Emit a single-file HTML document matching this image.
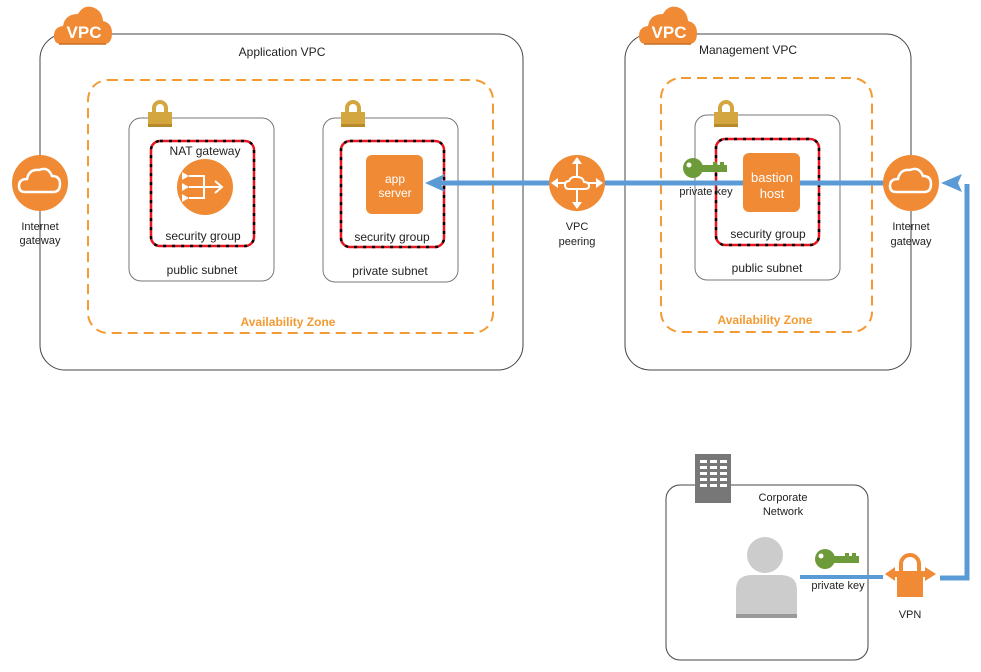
<!DOCTYPE html>
<html><head><meta charset="utf-8"><style>
html,body{margin:0;padding:0;background:#fff;}
svg{display:block;font-family:"Liberation Sans",sans-serif;}
</style></head><body>
<svg width="981" height="672" viewBox="0 0 981 672" xmlns="http://www.w3.org/2000/svg">
<defs>
<g id="cloudbadge">
<path d="M7 39 Q0 39 0 31 Q0 22 9 21 Q11 9 24 9 Q29 0 38 2 Q48 5 49 16 Q58 18 58 28 Q58 39 50 39 Z" fill="#f08a35"/>
<path d="M5 39 H52" stroke="#c96d22" stroke-width="1.5"/>
</g>
<g id="lock">
<path d="M6 12 V8 A6 6 0 0 1 18 8 V12" fill="none" stroke="#d4a640" stroke-width="4"/>
<rect x="0" y="12" width="24" height="15" fill="#d4a640"/>
<rect x="0" y="24" width="24" height="3" fill="#b8892a"/>
</g>
<g id="key">
<circle cx="10" cy="11" r="10" fill="#6e9b3a"/>
<rect x="14" y="8" width="30" height="7" fill="#6e9b3a"/>
<rect x="30" y="5" width="4" height="4" fill="#6e9b3a"/>
<rect x="37" y="5" width="4" height="4" fill="#6e9b3a"/>
<circle cx="6" cy="8" r="2.5" fill="#fff"/>
</g>
<g id="igw">
<circle cx="0" cy="0" r="28" fill="#f08a35"/>
<path d="M-15 9 Q-21 9 -21 3 Q-21 -4 -13 -4 Q-11 -14 -1 -13 Q8 -17 12 -7 Q20 -7 20 1 Q20 9 13 9 Z" fill="none" stroke="#fff" stroke-width="2.5"/>
</g>
</defs>

<!-- Application VPC -->
<rect x="40" y="34" width="483" height="336" rx="25" fill="none" stroke="#444" stroke-width="1"/>
<use href="#cloudbadge" x="54" y="5"/>
<text x="84" y="38" font-size="17" font-weight="bold" fill="#fff" text-anchor="middle">VPC</text>
<text x="282" y="56" font-size="12" text-anchor="middle" fill="#222">Application VPC</text>
<rect x="88" y="80" width="405" height="253" rx="20" fill="none" stroke="#f49a32" stroke-width="2" stroke-dasharray="10,6"/>
<text x="288" y="326" font-size="12" font-weight="bold" fill="#f49a32" text-anchor="middle">Availability Zone</text>

<rect x="129" y="118" width="145" height="163" rx="12" fill="none" stroke="#777"/>
<use href="#lock" x="148" y="100"/>
<rect x="151" y="141" width="103" height="105" rx="9" fill="none" stroke="#e8141e" stroke-width="2.5"/>
<rect x="151" y="141" width="103" height="105" rx="9" fill="none" stroke="#000" stroke-width="2.5" stroke-dasharray="3,6"/>
<text x="205" y="155" font-size="12" text-anchor="middle" fill="#222">NAT gateway</text>
<circle cx="205" cy="187" r="28" fill="#f08a35"/>
<path d="M189 176 H204 V198 H189 M189 187 H221 M215 181 L222 187 L215 193" fill="none" stroke="#fff" stroke-width="2"/>
<path d="M182 172 L189 176 L182 180 Z M182 183 L189 187 L182 191 Z M182 194 L189 198 L182 202 Z" fill="#fff"/>
<text x="203" y="240" font-size="12" text-anchor="middle" fill="#222">security group</text>
<text x="202" y="274" font-size="12" text-anchor="middle" fill="#222">public subnet</text>

<rect x="323" y="118" width="135" height="164" rx="12" fill="none" stroke="#777"/>
<use href="#lock" x="341" y="100"/>
<rect x="341" y="141" width="103" height="106" rx="9" fill="none" stroke="#e8141e" stroke-width="2.5"/>
<rect x="341" y="141" width="103" height="106" rx="9" fill="none" stroke="#000" stroke-width="2.5" stroke-dasharray="3,6"/>
<rect x="366" y="155" width="57" height="59" rx="6" fill="#f08a35"/>
<text x="395" y="183" font-size="12" text-anchor="middle" fill="#fff">app</text>
<text x="395" y="197" font-size="12" text-anchor="middle" fill="#fff">server</text>
<text x="392" y="241" font-size="12" text-anchor="middle" fill="#222">security group</text>
<text x="390" y="275" font-size="12" text-anchor="middle" fill="#222">private subnet</text>

<!-- Left IGW -->
<use href="#igw" x="40" y="183"/>
<text x="40" y="230" font-size="11" text-anchor="middle" fill="#222">Internet</text>
<text x="40" y="244" font-size="11" text-anchor="middle" fill="#222">gateway</text>

<!-- Management VPC -->
<rect x="625" y="34" width="286" height="336" rx="25" fill="none" stroke="#444" stroke-width="1"/>
<use href="#cloudbadge" x="639" y="5"/>
<text x="669" y="38" font-size="17" font-weight="bold" fill="#fff" text-anchor="middle">VPC</text>
<text x="748" y="54" font-size="12" text-anchor="middle" fill="#222">Management VPC</text>
<rect x="661" y="78" width="211" height="254" rx="20" fill="none" stroke="#f49a32" stroke-width="2" stroke-dasharray="10,6"/>
<text x="765" y="324" font-size="12" font-weight="bold" fill="#f49a32" text-anchor="middle">Availability Zone</text>
<rect x="695" y="115" width="145" height="165" rx="12" fill="none" stroke="#777"/>
<use href="#lock" x="714" y="100"/>
<rect x="716" y="139" width="103" height="106" rx="9" fill="none" stroke="#e8141e" stroke-width="2.5"/>
<rect x="716" y="139" width="103" height="106" rx="9" fill="none" stroke="#000" stroke-width="2.5" stroke-dasharray="3,6"/>

<!-- blue main line -->
<line x1="438" y1="183" x2="885" y2="183" stroke="#5b9bd5" stroke-width="5"/>
<path d="M425 183 L445 174 L440 183 L445 192 Z" fill="#5b9bd5"/>

<rect x="743" y="153" width="57" height="59" rx="6" fill="#f08a35"/>
<text x="772" y="182" font-size="13" text-anchor="middle" fill="#fff">bastion</text>
<text x="772" y="198" font-size="13" text-anchor="middle" fill="#fff">host</text>
<text x="768" y="238" font-size="12" text-anchor="middle" fill="#222">security group</text>
<text x="767" y="272" font-size="12" text-anchor="middle" fill="#222">public subnet</text>
<use href="#key" x="683" y="157"/>
<text x="706" y="195" font-size="11" text-anchor="middle" fill="#222">private key</text>

<!-- VPC peering -->
<circle cx="577" cy="183" r="28" fill="#f08a35"/>
<path d="M577 160 V206 M554 183 H600" stroke="#fff" stroke-width="2"/>
<path d="M577 157 L572 164 L582 164 Z M577 209 L572 202 L582 202 Z M551 183 L558 178 L558 188 Z M603 183 L596 178 L596 188 Z" fill="#fff"/>
<path d="M569 189 Q565 189 565 185 Q565 181 569 181 Q571 176 577 177 Q583 177 584 182 Q589 182 589 186 Q589 189 585 189 Z" fill="#f08a35" stroke="#fff" stroke-width="2"/>
<text x="577" y="230" font-size="11" text-anchor="middle" fill="#222">VPC</text>
<text x="577" y="245" font-size="11" text-anchor="middle" fill="#222">peering</text>

<!-- Right IGW -->
<use href="#igw" x="911" y="183"/>
<text x="911" y="230" font-size="11" text-anchor="middle" fill="#222">Internet</text>
<text x="911" y="245" font-size="11" text-anchor="middle" fill="#222">gateway</text>

<!-- right connector -->
<path d="M940 578 H967 V184" fill="none" stroke="#5b9bd5" stroke-width="5"/>
<path d="M941 183 L962 174 L958 183 L962 192 Z" fill="#5b9bd5"/>

<!-- Corporate -->
<rect x="666" y="485" width="202" height="175" rx="14" fill="none" stroke="#444"/>
<rect x="695" y="454" width="36" height="49" fill="#777"/>
<g fill="#fff">
<rect x="700" y="460" width="7" height="3"/><rect x="710" y="460" width="7" height="3"/><rect x="720" y="460" width="7" height="3"/>
<rect x="700" y="466" width="7" height="3"/><rect x="710" y="466" width="7" height="3"/><rect x="720" y="466" width="7" height="3"/>
<rect x="700" y="472" width="7" height="3"/><rect x="710" y="472" width="7" height="3"/><rect x="720" y="472" width="7" height="3"/>
<rect x="700" y="478" width="7" height="3"/><rect x="710" y="478" width="7" height="3"/><rect x="720" y="478" width="7" height="3"/>
<rect x="700" y="484" width="7" height="3"/><rect x="710" y="484" width="7" height="3"/><rect x="720" y="484" width="7" height="3"/>
</g>
<text x="783" y="501" font-size="11" text-anchor="middle" fill="#222">Corporate</text>
<text x="783" y="515" font-size="11" text-anchor="middle" fill="#222">Network</text>
<circle cx="765" cy="555" r="18" fill="#ccc"/>
<path d="M736 618 V590 Q736 575 752 575 H780 Q797 575 797 590 V618 Z" fill="#ccc"/>
<rect x="736" y="614" width="61" height="4" fill="#999"/>
<line x1="800" y1="577" x2="883" y2="577" stroke="#5b9bd5" stroke-width="4"/>
<use href="#key" x="815" y="548"/>
<text x="838" y="589" font-size="11" text-anchor="middle" fill="#222">private key</text>
<!-- VPN -->
<path d="M901 571 V564 A9 9 0 0 1 919 564 V571" fill="none" stroke="#f08a35" stroke-width="4"/>
<rect x="897" y="571" width="26" height="26" fill="#f08a35"/>
<path d="M885 574 L895 567 L895 571 L925 571 L925 567 L936 574 L925 581 L925 577 L895 577 L895 581 Z" fill="#f08a35"/>
<text x="910" y="618" font-size="11" text-anchor="middle" fill="#222">VPN</text>
</svg>
</body></html>
